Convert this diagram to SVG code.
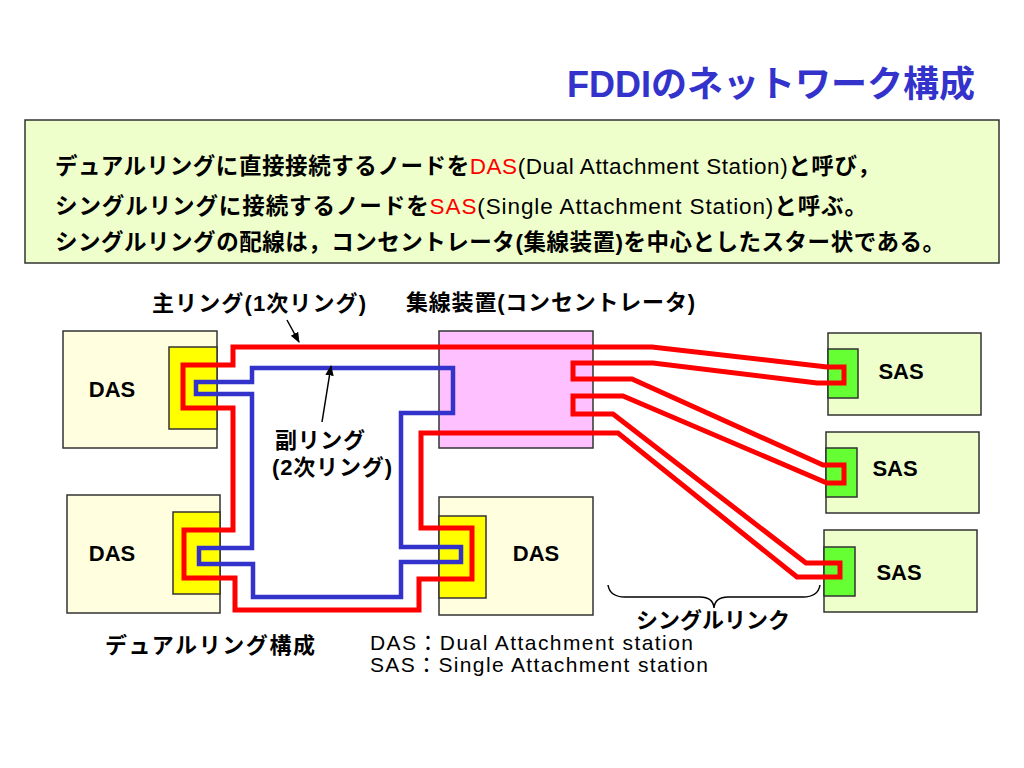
<svg xmlns="http://www.w3.org/2000/svg" width="1024" height="768" viewBox="0 0 1024 768">
<defs>
<style>
.box{stroke:#333;stroke-width:1.5}
.das{fill:#FFFFE0}
.sas{fill:#EEFFCC}
.port-y{fill:#FFFF00;stroke:#333;stroke-width:1.5}
.port-g{fill:#66FF33;stroke:#333;stroke-width:1.5}
.conc{fill:#FFC0FF}
.t{font-family:"Liberation Sans","Noto Sans CJK JP",sans-serif;fill:#000}
.b{font-weight:bold}
.lbl{font-family:"Liberation Sans",sans-serif;font-weight:bold;font-size:22px;fill:#000}
.red{fill:none;stroke:#FF0000;stroke-width:5;stroke-linejoin:miter}
.blue{fill:none;stroke:#3333CC;stroke-width:4.5}
.ptr{fill:none;stroke:#000;stroke-width:1.5}
</style>
<marker id="ah" viewBox="0 0 10 10" refX="9" refY="5" markerWidth="7" markerHeight="7" orient="auto">
<path d="M0,1 L10,5 L0,9 z" fill="#000"/>
</marker>
</defs>
<rect width="1024" height="768" fill="#fff"/>

<text class="t b" x="975" y="97" font-size="36" fill="#3333CC" style="fill:#3333CC" text-anchor="end">FDDIのネットワーク構成</text>

<g id="desc">
<rect x="25" y="120" width="974" height="143" class="box sas"/>
<text class="t" x="55" y="174" font-size="22.5" textLength="825"><tspan class="b">デュアルリングに直接接続するノードを</tspan><tspan fill="#FF0000" style="fill:#FF0000">DAS</tspan>(Dual Attachment Station)<tspan class="b">と呼び，</tspan></text>
<text class="t" x="55" y="214" font-size="22.5" textLength="812"><tspan class="b">シングルリングに接続するノードを</tspan><tspan fill="#FF0000" style="fill:#FF0000">SAS</tspan>(Single Attachment Station)<tspan class="b">と呼ぶ。</tspan></text>
<text class="t b" x="55" y="250" font-size="22.5" textLength="890">シングルリングの配線は，コンセントレータ(集線装置)を中心としたスター状である。</text>
</g>

<g id="das1">
<rect x="63" y="331" width="154" height="117" class="box das"/>
<rect x="169" y="347" width="48" height="82" class="port-y"/>
<text class="lbl" x="112" y="397" text-anchor="middle">DAS</text>
</g>
<g id="das2">
<rect x="67" y="495" width="153" height="118" class="box das"/>
<rect x="173" y="512" width="47" height="82" class="port-y"/>
<text class="lbl" x="112" y="561" text-anchor="middle">DAS</text>
</g>
<g id="das3">
<rect x="439" y="497" width="154" height="118" class="box das"/>
<rect x="439" y="516" width="47" height="82" class="port-y"/>
<text class="lbl" x="536" y="561" text-anchor="middle">DAS</text>
</g>
<g id="concentrator">
<rect x="439" y="331" width="154" height="117" class="box conc"/>
</g>
<g id="sas1">
<rect x="828" y="333" width="153" height="82" class="box sas"/>
<rect x="828" y="349" width="30" height="49" class="port-g"/>
<text class="lbl" x="901" y="379" text-anchor="middle">SAS</text>
</g>
<g id="sas2">
<rect x="826" y="432" width="153" height="81" class="box sas"/>
<rect x="826" y="448" width="31" height="49" class="port-g"/>
<text class="lbl" x="895" y="476" text-anchor="middle">SAS</text>
</g>
<g id="sas3">
<rect x="824" y="530" width="153" height="82" class="box sas"/>
<rect x="824" y="547" width="31" height="49" class="port-g"/>
<text class="lbl" x="899" y="580" text-anchor="middle">SAS</text>
</g>

<g id="connectors">
<path class="red" d="M233,347 L652,347 L827,367 L844,367 L844,383 L817,383 L653,363 L573,363 L573,379 L632,379 L823,465 L844,465 L844,483 L827,483 L623,396 L573,396 L573,414 L613,414 L806,563 L840,563 L840,577 L797,577 L618,433 L421,433 L421,528 L472,528 L472,579 L419,579 L419,610 L235,610 L235,578 L184,578 L184,530 L233,530 L233,408 L183,408 L183,365 L233,365 Z"/>
<path class="blue" d="M252,368 L453,368 L453,413 L401,413 L401,547 L461,547 L461,562 L401,562 L401,597 L253,597 L253,564 L199,564 L199,548 L252,548 L252,394 L196,394 L196,382 L252,382 Z"/>
<line class="ptr" x1="287" y1="320" x2="299" y2="342" marker-end="url(#ah)"/>
<line class="ptr" x1="322" y1="422" x2="331" y2="366" marker-end="url(#ah)"/>
<path class="ptr" d="M608,585 Q610,597 625,597 L700,597 Q713,597 714,608 Q715,597 728,597 L803,597 Q818,597 820,585"/>
</g>

<g id="labels">
<text class="t b" x="152" y="311" font-size="22" textLength="214">主リング(1次リング)</text>
<text class="t b" x="406" y="310" font-size="22" textLength="289">集線装置(コンセントレータ)</text>
<text class="t b" x="275" y="448" font-size="22" textLength="90">副リング</text>
<text class="t b" x="272" y="475" font-size="22" textLength="120">(2次リング)</text>
<text class="t b" x="636" y="628" font-size="22" textLength="154">シングルリンク</text>
<text class="t b" x="105" y="653" font-size="22" textLength="210">デュアルリング構成</text>
<text class="t" font-size="21"><tspan x="370" y="650" textLength="323">DAS：Dual Attachment station</tspan><tspan x="370" y="672" textLength="338">SAS：Single Attachment station</tspan></text>
</g>
</svg>
